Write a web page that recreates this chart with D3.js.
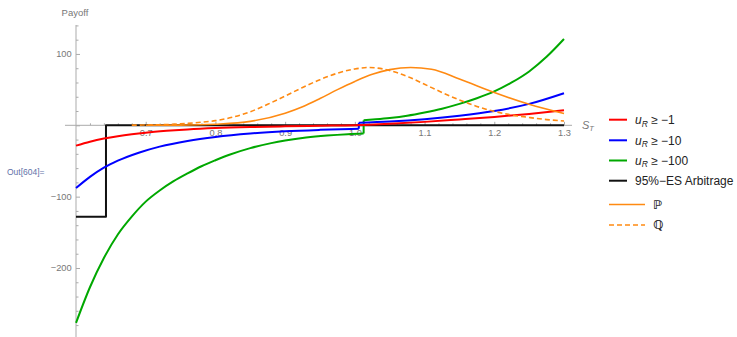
<!DOCTYPE html>
<html>
<head>
<meta charset="utf-8">
<script src="https://cdn.jsdelivr.net/npm/d3@7"></script>
<style>
  html, body { margin: 0; padding: 0; background: #fff; }
  svg { display: block; font-family: "Liberation Sans", Arial, sans-serif; }
</style>
</head>
<body>
<svg id="chart" width="737" height="337"></svg>
<script>
// Terminal price grid and optimal payoffs under each utility bound
const redS   = [0.60, 0.62, 0.64, 0.66, 0.68, 0.70, 0.73, 0.76, 0.80, 0.85, 0.90, 0.95, 1.00, 1.05, 1.10, 1.15, 1.20, 1.25, 1.30];
const redV   = [-28.5, -23.0, -18.6, -15.2, -12.5, -10.3, -7.8, -5.8, -3.9, -2.4, -1.4, -0.6, 0.2, 2.2, 4.8, 8.2, 11.8, 16.0, 21.0];

const blueS  = [0.60, 0.62, 0.64, 0.66, 0.69, 0.72, 0.76, 0.80, 0.85, 0.90, 0.95, 1.0057, 1.0057, 1.05, 1.10, 1.15, 1.20, 1.25, 1.30];
const blueV  = [-88.0, -72.3, -59.4, -49.6, -38.4, -29.9, -21.9, -16.3, -11.5, -8.4, -6.4, -4.8, 3.6, 5.3, 8.5, 13.3, 20.0, 30.0, 45.0];

const greenS = [0.60, 0.62, 0.64, 0.66, 0.68, 0.70, 0.72, 0.74, 0.76, 0.78, 0.80, 0.82, 0.85, 0.88, 0.90, 0.93, 0.96, 0.99, 1.0126,
                1.0126, 1.03, 1.05, 1.075, 1.10, 1.125, 1.15, 1.175, 1.20, 1.225, 1.25, 1.275, 1.30];
const greenV = [-277, -227, -186, -153, -128, -107, -91.4, -78.3, -67.4, -57.4, -49.0, -41.3, -32.0, -25.0, -21.3, -17.1, -14.3, -12.4, -11.5,
                7.0, 8.4, 10.3, 13.5, 18.0, 23.3, 30.0, 38.0, 47.5, 60.0, 75.5, 96.0, 121.0];

// 95%-ES arbitrage payoff: a short position on the far left tail, flat elsewhere
const esS    = [0.60, 0.643, 0.643, 1.30];
const esV    = [-128, -128, 0, 0];

// Densities of S_T under the physical (P) and the pricing (Q) measure
const pS = [0.70, 0.75, 0.80, 0.85, 0.90, 0.925, 0.95, 0.975, 1.00, 1.025, 1.05, 1.08, 1.11, 1.15, 1.20, 1.25, 1.30];
const pV = [0.0, 0.2, 1.5, 5.5, 17.0, 26.0, 37.5, 50.0, 61.5, 71.5, 78.0, 81.0, 78.5, 65.0, 46.0, 29.5, 16.5];
const qS = [0.68, 0.72, 0.75, 0.78, 0.80, 0.825, 0.85, 0.875, 0.90, 0.925, 0.95, 0.975, 1.00, 1.02, 1.04, 1.06, 1.08, 1.10, 1.125,
            1.15, 1.175, 1.20, 1.225, 1.25, 1.275, 1.30];
const qV = [0.2, 0.8, 2.0, 4.3, 6.5, 11.5, 19.0, 29.5, 41.0, 53.0, 64.0, 73.0, 79.0, 81.0, 79.0, 74.0, 66.5, 57.5, 46.0,
            35.5, 26.5, 19.5, 14.5, 11.0, 8.0, 6.0];

// Tick marks
const sMajor = [0.7, 0.8, 0.9, 1.0, 1.1, 1.2, 1.3];
const sMinor = d3.range(31, 66).map(i => i * 0.02).filter(v => v > 0.61 && Math.abs(v * 10 - Math.round(v * 10)) > 1e-6);
const payoffMajor = [-200, -100, 0, 100];
const payoffMinor = d3.range(-280, 141, 20).filter(v => v % 100 !== 0);

const svg = d3.select("#chart");

const x = d3.scaleLinear().domain([0.6, 1.3]).range([76, 564]);
const y = d3.scaleLinear().domain([0, 100]).range([125.3, 53.95]);

const axisGrey = "#ababab";
const labelGrey = "#777";

// Axis lines
svg.append("line")
  .attr("x1", x(0.5842)).attr("x2", x(1.3115))
  .attr("y1", y(0)).attr("y2", y(0))
  .attr("stroke", axisGrey).attr("stroke-width", 1);
svg.append("line")
  .attr("x1", x(0.6)).attr("x2", x(0.6))
  .attr("y1", y(140.6)).attr("y2", 337)
  .attr("stroke", axisGrey).attr("stroke-width", 1);

function styleAxis(g) {
  g.select(".domain").remove();
  g.selectAll(".tick line").attr("stroke", axisGrey);
  g.selectAll(".tick text").attr("fill", labelGrey).attr("font-size", 9.3)
    .attr("font-family", "'Liberation Sans', Arial, sans-serif");
}

// Horizontal axis: ticks point up, labels sit under the line
svg.append("g").attr("transform", `translate(0,${y(0)})`)
  .call(d3.axisBottom(x).tickValues(sMajor).tickSizeInner(-3.5).tickSizeOuter(0).tickPadding(4.2)
    .tickFormat(d3.format(".1f")))
  .call(styleAxis);
svg.append("g").attr("transform", `translate(0,${y(0)})`)
  .call(d3.axisBottom(x).tickValues(sMinor).tickSizeInner(-2).tickSizeOuter(0).tickFormat(""))
  .call(styleAxis);

// Vertical axis: ticks point right
svg.append("g").attr("transform", `translate(${x(0.6)},0)`)
  .call(d3.axisLeft(y).tickValues(payoffMajor).tickSizeInner(-4).tickSizeOuter(0).tickPadding(4.3)
    .tickFormat(d => d === 0 ? "" : (d < 0 ? "\u2212" + Math.abs(d) : String(d))))
  .call(styleAxis);
svg.append("g").attr("transform", `translate(${x(0.6)},0)`)
  .call(d3.axisLeft(y).tickValues(payoffMinor).tickSizeInner(-2.5).tickSizeOuter(0).tickFormat(""))
  .call(styleAxis);

// Axis titles
svg.append("text").attr("x", 75).attr("y", 15.5).attr("text-anchor", "middle")
  .attr("font-size", 9.5).attr("fill", labelGrey).text("Payoff");
const st = svg.append("text").attr("x", 582).attr("y", 128.5)
  .attr("font-size", 11).attr("fill", labelGrey);
st.append("tspan").attr("font-style", "italic").text("S");
st.append("tspan").attr("font-style", "italic").attr("font-size", 7.5).attr("dy", 2.5).text("T");

// Cell label
svg.append("text").attr("x", 7).attr("y", 175).attr("font-size", 8.5)
  .attr("fill", "#6272a8").text("Out[604]=");

// Draws a series; equal consecutive S values mark a jump drawn as a vertical segment
function drawSeries(sArr, vArr, color, width, dash, curve) {
  const pts = sArr.map((s, i) => [s, vArr[i]]);
  const runs = [[pts[0]]];
  for (let i = 1; i < pts.length; i++) {
    if (pts[i][0] === pts[i - 1][0] && curve !== d3.curveLinear) runs.push([pts[i]]);
    else runs[runs.length - 1].push(pts[i]);
  }
  const line = d3.line().x(d => x(d[0])).y(d => y(d[1])).curve(curve);
  const g = svg.append("g").attr("fill", "none").attr("stroke", color)
    .attr("stroke-width", width).attr("stroke-linejoin", "round");
  if (dash) g.attr("stroke-dasharray", dash);
  runs.forEach((run, k) => {
    g.append("path").attr("d", line(run));
    if (k > 0) {
      const a = runs[k - 1][runs[k - 1].length - 1], b = run[0];
      g.append("path").attr("d", d3.line().x(d => x(d[0])).y(d => y(d[1]))([a, b]));
    }
  });
}

drawSeries(esS, esV, "#111", 2, null, d3.curveLinear);
drawSeries(greenS, greenV, "#00a800", 2, null, d3.curveMonotoneX);
drawSeries(blueS, blueV, "#0000ff", 2, null, d3.curveMonotoneX);
drawSeries(redS, redV, "#ff0000", 2, null, d3.curveMonotoneX);
drawSeries(pS, pV, "#ff8a12", 1.6, null, d3.curveMonotoneX);
drawSeries(qS, qV, "#ff8a12", 1.6, "5,3", d3.curveMonotoneX);

// Legend
const legendItems = [
  { color: "#ff0000", kind: "u", bound: "1", yc: 119.7, len: 18 },
  { color: "#0000ff", kind: "u", bound: "10", yc: 140.3, len: 18 },
  { color: "#00a800", kind: "u", bound: "100", yc: 160.5, len: 18 },
  { color: "#111", kind: "t", text: "95%\u2212ES Arbitrage", yc: 180.7, len: 18 },
  { color: "#ff8a12", kind: "m", text: "\u2119", yc: 204.5, len: 36 },
  { color: "#ff8a12", kind: "m", text: "\u211A", yc: 225, len: 36, dash: "5,3" }
];
const lg = svg.append("g");
legendItems.forEach(it => {
  lg.append("line").attr("x1", 609).attr("x2", 609 + it.len)
    .attr("y1", it.yc).attr("y2", it.yc)
    .attr("stroke", it.color).attr("stroke-width", it.len > 20 ? 1.6 : 2)
    .attr("stroke-dasharray", it.dash || null);
  const t = lg.append("text").attr("x", 609 + it.len + 8).attr("y", it.yc + 4.3)
    .attr("font-size", 12).attr("fill", "#222");
  if (it.kind === "u") {
    t.append("tspan").attr("font-style", "italic").text("u");
    t.append("tspan").attr("font-style", "italic").attr("font-size", 8.5).attr("dy", 2.5).text("R");
    t.append("tspan").attr("dy", -2.5).text(" \u2265 \u2212" + it.bound);
  } else if (it.kind === "m") {
    t.attr("font-family", "'DejaVu Sans', sans-serif").attr("font-weight", "bold").text(it.text);
  } else {
    t.text(it.text);
  }
});
</script>
</body>
</html>
